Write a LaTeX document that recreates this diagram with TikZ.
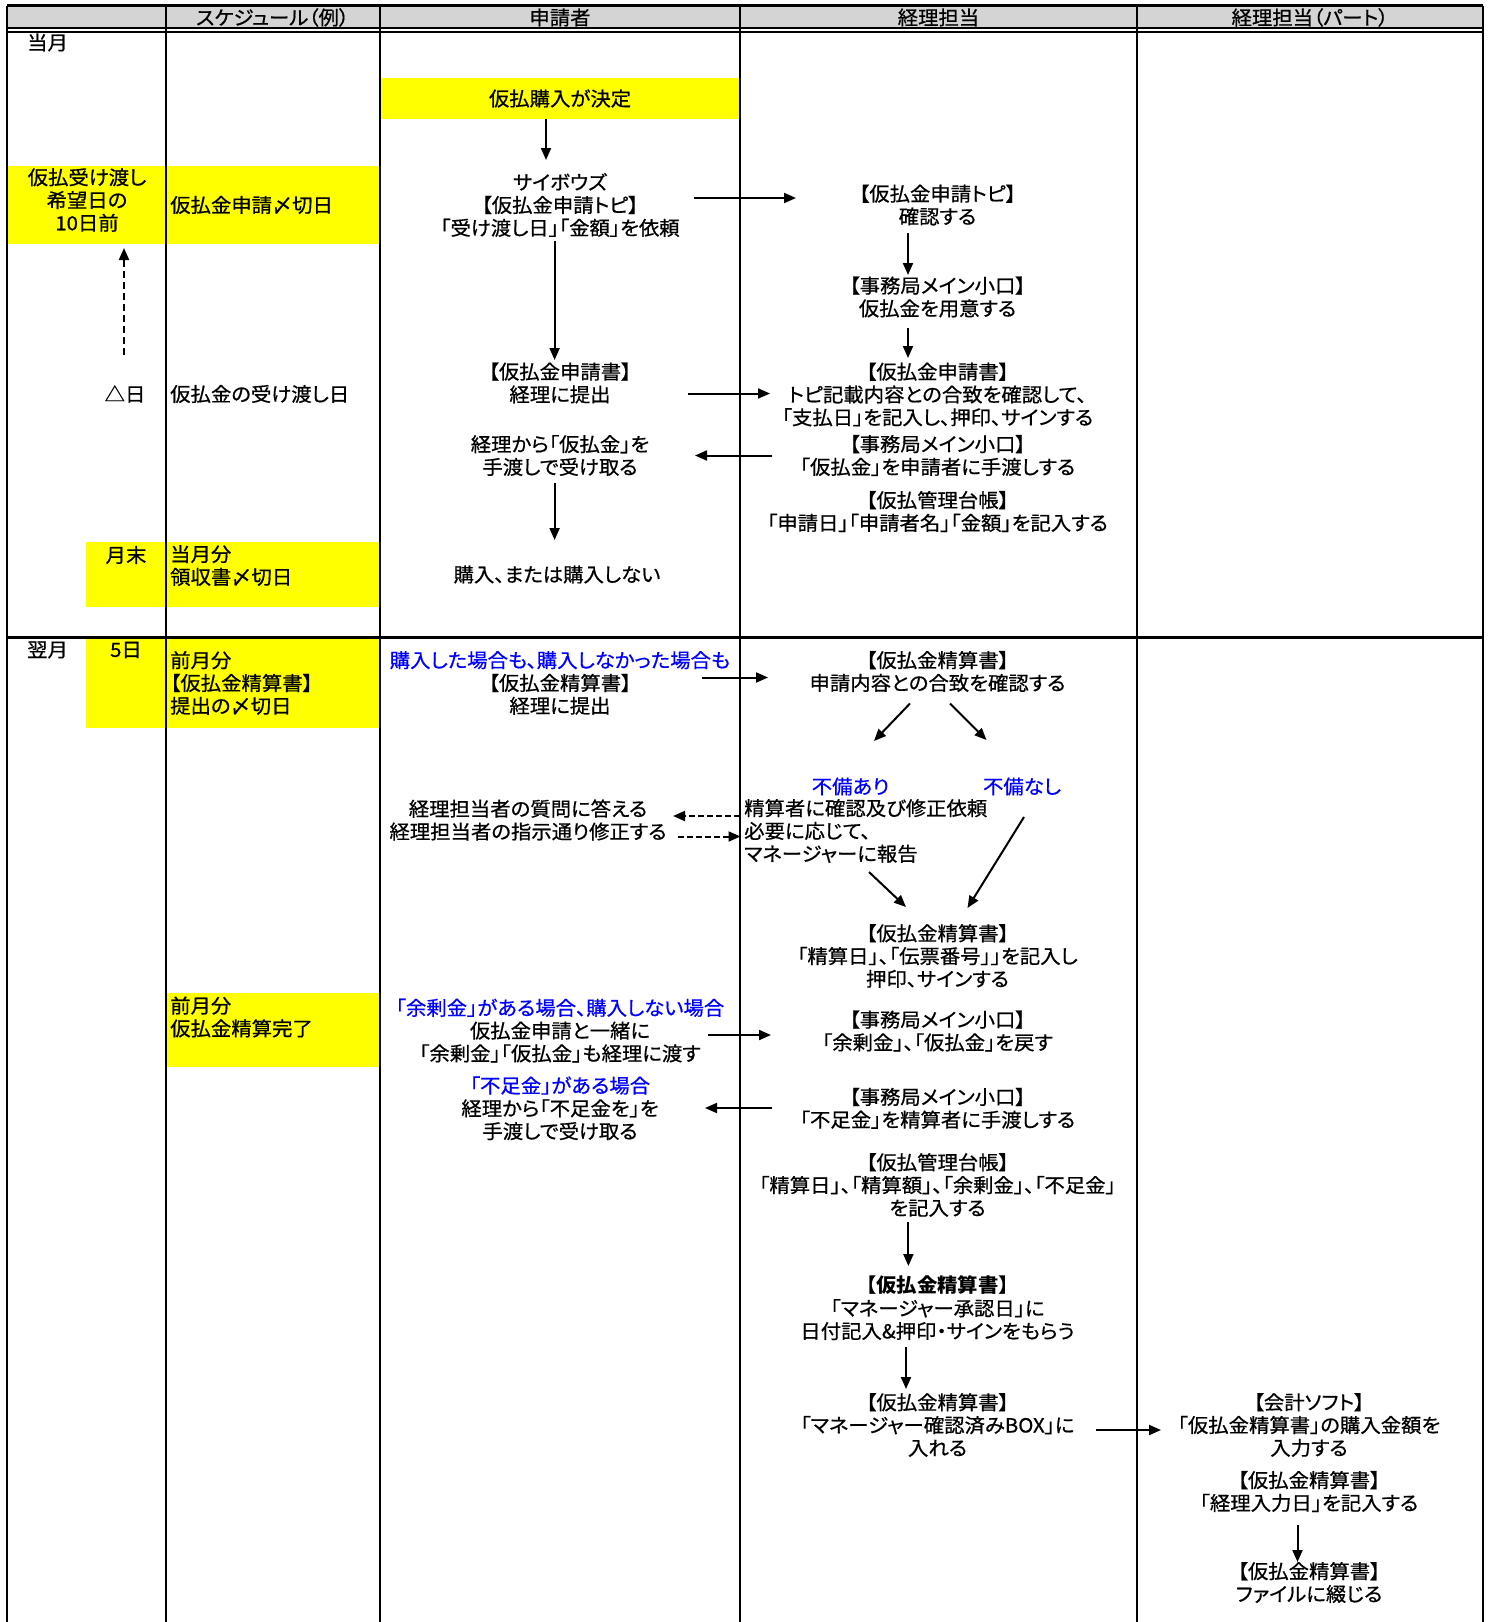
\documentclass[tikz,border=0pt]{standalone}
\usepackage{fontspec}
\setmainfont{Noto Sans CJK JP}[RawFeature=+palt, FakeStretch=1.045, UprightFeatures={FakeBold=0.7}]
\usetikzlibrary{arrows.meta}
\definecolor{hdrgray}{RGB}{212,212,212}
\definecolor{markyellow}{RGB}{255,255,0}
\definecolor{noteblue}{RGB}{0,0,255}
\begin{document}
\begin{tikzpicture}[x=1pt,y=-1pt,
  txt/.style={inner sep=0pt, align=center, font=\fontsize{19.5}{22.8}\selectfont},
  lefttxt/.style={txt, align=left, anchor=west},
  flow/.style={line width=2pt, -{Triangle[length=12pt,width=10pt]}},
  flowdash/.style={flow, dash pattern=on 6pt off 3pt},
  gridline/.style={line width=2.2pt},
  band/.style={fill=markyellow, draw=none}]
\useasboundingbox[fill=white] (0,0) rectangle (1491,1622);

% ---------- yellow highlight cells ----------
\fill[band] (380,77.6) rectangle (740,119);
\fill[band] (7,165.6) rectangle (380,243.5);
\fill[band] (86,541.5) rectangle (380,607);
\fill[band] (86,638.5) rectangle (380,727.5);
\fill[band] (165.6,993.3) rectangle (380,1066.5);

% ---------- table grid ----------
\fill[hdrgray] (7,5.5) rectangle (1482.7,28);
\draw[gridline] (7,5.5) -- (1482.7,5.5);
\draw[line width=1.5pt] (7,28) -- (1482.7,28);
\draw[line width=2.5pt] (7,32) -- (1482.7,32);
\draw[gridline] (7,637.4) -- (1482.7,637.4);
\foreach \xx in {7.2,165.6,379.7,739.8,1137.2,1482.7}
  \draw[gridline] (\xx,5.5) -- (\xx,1622);

% ---------- header ----------
\node[txt] (h2) at (272.6,17.5) {スケジュール（例）};
\node[txt] (h3) at (560,17.5) {申請者};
\node[txt] (h4) at (938.5,17.5) {経理担当};
\node[txt] (h5) at (1310,17.5) {経理担当（パート）};

% ---------- schedule columns ----------
\node[lefttxt] (m1) at (27,42.5) {当月};
\node[txt] (c1a) at (87,200) {仮払受け渡し\\希望日の\\10日前};
\node[lefttxt] (c2a) at (170,205) {仮払金申請〆切日};
\node[txt] (c1b) at (125,394) {△日};
\node[lefttxt] (c2b) at (170,394) {仮払金の受け渡し日};
\node[txt] (c1c) at (126,555) {月末};
\node[lefttxt] (c2c) at (170,565.5) {当月分\\領収書〆切日};
\node[lefttxt] (m2) at (27,650) {翌月};
\node[txt] (c1d) at (126,650) {5日};
\node[lefttxt] (c2d) at (170,683) {前月分\\【仮払金精算書】\\提出の〆切日};
\node[lefttxt] (c2e) at (170,1017) {前月分\\仮払金精算完了};

\coordinate (d1) at (124,355);
\coordinate (d2) at (124,248);
\draw[flowdash, dash pattern=on 7pt off 4pt] (d1) -- (d2);

% ---------- applicant ----------
\node[txt] (s1) at (560,98.5) {仮払購入が決定};
\node[txt] (s2) at (560,205) {サイボウズ\\【仮払金申請トピ】\\「受け渡し日」「金額」を依頼};
\node[txt] (s3) at (560,383) {【仮払金申請書】\\経理に提出};
\node[txt] (s4) at (560,455.5) {経理から「仮払金」を\\手渡しで受け取る};
\node[txt] (s5) at (557,574.5) {購入、または購入しない};
\node[txt] (s6) at (560,683) {\textcolor{noteblue}{購入した場合も、購入しなかった場合も}\\【仮払金精算書】\\経理に提出};
\node[txt] (s7) at (528,820) {経理担当者の質問に答える\\経理担当者の指示通り修正する};
\node[txt] (s8) at (560,1030.6) {\textcolor{noteblue}{「余剰金」がある場合、購入しない場合}\\仮払金申請と一緒に\\「余剰金」「仮払金」も経理に渡す};
\node[txt] (s9) at (560,1108.3) {\textcolor{noteblue}{「不足金」がある場合}\\経理から「不足金を」を\\手渡しで受け取る};

% ---------- accounting ----------
\node[txt] (k1) at (937.5,205) {【仮払金申請トピ】\\確認する};
\node[txt] (k2) at (937.5,297) {【事務局メイン小口】\\仮払金を用意する};
\node[txt] (k3) at (937.5,394.5) {【仮払金申請書】\\トピ記載内容との合致を確認して、\\「支払日」を記入し、押印、サインする};
\node[txt] (k4) at (937.5,455.5) {【事務局メイン小口】\\「仮払金」を申請者に手渡しする};
\node[txt] (k5) at (937.5,511.5) {【仮払管理台帳】\\「申請日」「申請者名」「金額」を記入する};
\node[txt] (k6) at (937.5,671.5) {【仮払金精算書】\\申請内容との合致を確認する};
\node[txt, text=noteblue] (k7a) at (850.5,786.5) {不備あり};
\node[txt, text=noteblue] (k7b) at (1022,786.5) {不備なし};
\node[lefttxt] (k8) at (744,831) {精算者に確認及び修正依頼\\必要に応じて、\\マネージャーに報告};
\node[txt] (k9) at (937.5,956) {【仮払金精算書】\\「精算日」、「伝票番号」」を記入し\\押印、サインする};
\node[txt] (k10) at (937.5,1031) {【事務局メイン小口】\\「余剰金」、「仮払金」を戻す};
\node[txt] (k11) at (937.5,1108.3) {【事務局メイン小口】\\「不足金」を精算者に手渡しする};
\node[txt] (k12) at (937.5,1185) {【仮払管理台帳】\\「精算日」、「精算額」、「余剰金」、「不足金」\\を記入する};
\node[txt] (k13) at (937.5,1308) {\textbf{【仮払金精算書】}\\「マネージャー承認日」に\\日付記入\&押印・サインをもらう};
\node[txt] (k14) at (937.5,1425) {【仮払金精算書】\\「マネージャー確認済みBOX」に\\入れる};

% ---------- accounting (part-time) ----------
\node[txt] (p1) at (1309,1425) {【会計ソフト】\\「仮払金精算書」の購入金額を\\入力する};
\node[txt] (p2) at (1309,1491.5) {【仮払金精算書】\\「経理入力日」を記入する};
\node[txt] (p3) at (1309,1582.5) {【仮払金精算書】\\ファイルに綴じる};

% ---------- connector end points ----------
\coordinate (a1s) at (546,119);    \coordinate (a1e) at (546,160);
\coordinate (a2s) at (694,198);    \coordinate (a2e) at (796,198);
\coordinate (a3s) at (908,233);    \coordinate (a3e) at (908,275);
\coordinate (a4s) at (908,328);    \coordinate (a4e) at (908,358);
\coordinate (a5s) at (554.6,241);  \coordinate (a5e) at (554.6,360);
\coordinate (a6s) at (688,393.5);  \coordinate (a6e) at (770,393.5);
\coordinate (a7s) at (772,455.5);  \coordinate (a7e) at (695,455.5);
\coordinate (a8s) at (554.6,483);  \coordinate (a8e) at (554.6,540);
\coordinate (a9s) at (702,677.5);  \coordinate (a9e) at (768,677.5);
\coordinate (a10s) at (910,703.5); \coordinate (a10e) at (874,741);
\coordinate (a11s) at (950,703.5); \coordinate (a11e) at (986.5,740);
\coordinate (a12s) at (740,816);   \coordinate (a12e) at (673,816);
\coordinate (a13s) at (678,836.5); \coordinate (a13e) at (740.5,836.5);
\coordinate (a14s) at (869,872);   \coordinate (a14e) at (906,907);
\coordinate (a15s) at (1024,817);  \coordinate (a15e) at (967.5,908);
\coordinate (a16s) at (708,1035);  \coordinate (a16e) at (771,1035);
\coordinate (a17s) at (772,1108);  \coordinate (a17e) at (705,1108);
\coordinate (a18s) at (908.4,1222);\coordinate (a18e) at (908.4,1266);
\coordinate (a19s) at (906,1347);  \coordinate (a19e) at (906,1389);
\coordinate (a20s) at (1096,1430); \coordinate (a20e) at (1161,1430);
\coordinate (a21s) at (1297.5,1525);\coordinate (a21e) at (1297.5,1562);

% ---------- connectors ----------
\foreach \n in {1,...,11,14,15,16,17,18,19,20,21}
  \draw[flow] (a\n s) -- (a\n e);
\draw[flowdash] (a12s) -- (a12e);
\draw[flowdash] (a13s) -- (a13e);
\end{tikzpicture}
\end{document}
